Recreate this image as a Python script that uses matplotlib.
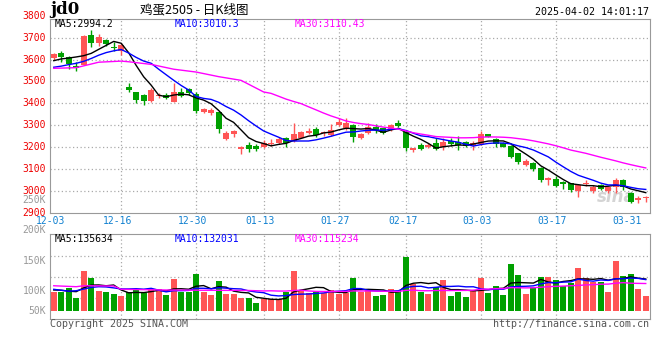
import numpy as np
import pandas as pd
import matplotlib
matplotlib.use('Agg')
import matplotlib.pyplot as plt

# trading days shown (80 days, 2024-12-03 .. 2025-04-02), labels on the x axis
tick_labels = ['12-03', '12-16', '12-30', '01-13', '01-27', '02-17', '03-03', '03-17', '03-31']
tick_idx = [0, 9, 19, 28, 38, 47, 57, 67, 77]

# daily candles
opens = [3607, 3629, 3610, 3571, 3575, 3712, 3678, 3690, 3659, 3640,
         3476, 3453, 3438, 3411, 3433, 3438, 3407, 3453, 3464, 3443,
         3362, 3357, 3360, 3235, 3258, 3190, 3208, 3205, 3199, 3214,
         3220, 3240, 3229, 3243, 3266, 3282, 3263, 3255, 3301, 3286,
         3301, 3240, 3263, 3290, 3286, 3278, 3311, 3270, 3187, 3208,
         3202, 3220, 3202, 3229, 3225, 3225, 3209, 3214, 3260, 3235,
         3217, 3205, 3171, 3118, 3129, 3103, 3050, 3053, 3042, 3035,
         3001, 3030, 3001, 3027, 3001, 3016, 3050, 2989, 2958, 2966]
highs = [3631, 3640, 3615, 3590, 3712, 3735, 3717, 3692, 3682, 3674,
         3491, 3453, 3443, 3469, 3446, 3446, 3494, 3469, 3472, 3450,
         3378, 3378, 3360, 3275, 3278, 3205, 3224, 3214, 3232, 3235,
         3244, 3244, 3311, 3275, 3288, 3290, 3275, 3305, 3332, 3334,
         3305, 3263, 3311, 3305, 3286, 3305, 3324, 3278, 3197, 3217,
         3220, 3240, 3240, 3240, 3251, 3229, 3229, 3275, 3262, 3240,
         3222, 3210, 3175, 3144, 3133, 3108, 3062, 3068, 3047, 3038,
         3030, 3050, 3027, 3030, 3022, 3057, 3054, 2996, 2976, 2976]
lows = [3600, 3590, 3556, 3549, 3573, 3656, 3662, 3660, 3640, 3621,
        3453, 3403, 3392, 3408, 3423, 3418, 3407, 3430, 3440, 3354,
        3356, 3347, 3266, 3232, 3247, 3167, 3179, 3183, 3194, 3205,
        3214, 3202, 3224, 3240, 3258, 3247, 3251, 3251, 3296, 3278,
        3224, 3235, 3260, 3263, 3258, 3275, 3293, 3183, 3179, 3187,
        3195, 3187, 3187, 3205, 3187, 3199, 3187, 3209, 3245, 3199,
        3199, 3148, 3123, 3114, 3092, 3042, 3027, 3019, 3007, 2996,
        2970, 3022, 2989, 3004, 2991, 2991, 3004, 2946, 2946, 2950]
closes = [3625, 3613, 3580, 3563, 3708, 3678, 3705, 3671, 3653, 3666,
          3461, 3415, 3412, 3461, 3438, 3425, 3453, 3433, 3446, 3366,
          3376, 3369, 3281, 3266, 3273, 3202, 3193, 3193, 3220, 3220,
          3235, 3217, 3258, 3267, 3273, 3255, 3270, 3278, 3316, 3311,
          3247, 3260, 3290, 3278, 3263, 3301, 3296, 3194, 3194, 3190,
          3209, 3190, 3225, 3214, 3209, 3205, 3217, 3260, 3247, 3214,
          3202, 3153, 3133, 3137, 3098, 3050, 3057, 3022, 3030, 3004,
          3027, 3037, 3019, 3007, 3016, 3050, 3019, 2950, 2966, 2973]

# volume in thousands
volume = [82, 82, 99, 56, 171, 141, 85, 82, 72, 65,
          82, 93, 78, 93, 93, 68, 136, 82, 82, 157,
          82, 68, 127, 72, 72, 56, 56, 35, 51, 51,
          51, 82, 171, 89, 78, 82, 75, 89, 71, 75,
          141, 79, 93, 65, 68, 93, 85, 230, 113, 82,
          72, 103, 131, 65, 82, 61, 89, 141, 78, 106,
          68, 199, 153, 72, 100, 145, 145, 131, 106, 117,
          184, 141, 124, 122, 82, 213, 150, 157, 93, 65]

# moving averages at the left edge (days before the window)
ma5_head = [3595, 3603, 3607, 3612]
ma10_head = [3565, 3570, 3577, 3583, 3592, 3605, 3620, 3632, 3640]
ma30_head_idx = [0, 3, 6, 9, 10, 13, 16, 19, 22, 25, 28]
ma30_head = [3560, 3563, 3588, 3593, 3590, 3578, 3556, 3543, 3522, 3505, 3452]

vma5_head = [89, 88, 84, 82]
vma10_head = [92, 88, 84, 86, 93, 100, 103, 102, 98]
vma30_head_idx = [0, 3, 4, 8, 9, 15, 20, 26, 28]
vma30_head = [107, 103, 107, 106, 92, 89, 88, 87, 85]

price_ticks = [2900, 3000, 3100, 3200, 3300, 3400, 3500, 3600, 3700, 3800]
vol_ticks = ['250K', '200K', '150K', '100K', '50K']

RED = '#ff5555'
GREEN = '#00a000'
GRID = '#aaaaaa'
BORDER = '#999999'
MONO = 'DejaVu Sans Mono'

W, H = 660, 360
def fx(x):
    return x / W
def fy(y):
    return 1 - y / H

n = len(closes)
x = np.arange(n)
o = np.array(opens)
c = np.array(closes)
col = np.where(c >= o, RED, GREEN)


def ma_line(values, win, head, head_idx=None):
    s = pd.Series(values).rolling(win).mean()
    if head_idx is None:
        head_idx = list(range(len(head)))
    xs = list(head_idx) + list(range(win - 1, len(values)))
    ys = list(head) + list(s[win - 1:])
    return xs, ys


fig = plt.figure(figsize=(6.6, 3.6), dpi=100)

# price panel
ax = fig.add_axes([fx(50), fy(212.7), fx(599.5), 193.7 / H])
ax.set_xlim(-0.5, n - 0.5)
ax.set_ylim(2900, 3785.5)
ax.set_yticks(price_ticks[1:-1])
ax.set_xticks(tick_idx[1:-1])
ax.grid(True, ls=(0, (1, 2)), color=GRID, lw=0.9)
ax.set_axisbelow(True)
ax.tick_params(left=False, bottom=False, labelleft=False, labelbottom=False)
for s in ax.spines.values():
    s.set_color(BORDER)
ax.spines['left'].set_linestyle((0, (1, 1)))

# faint sina logo in the corner
ax.text(0.945, 0.08, 'sina', transform=ax.transAxes, fontsize=12, fontweight='bold',
        style='italic', color='#d4d4d4', ha='center', va='center', zorder=1)

ax.vlines(x, lows, highs, colors=col, lw=1, zorder=2)
body = np.maximum(np.abs(c - o), 3)
ax.bar(x, body, bottom=np.minimum(o, c), width=0.8, color=col, lw=0, zorder=3)

for win, head, hidx, color in [(5, ma5_head, None, 'black'),
                               (10, ma10_head, None, '#0000ff'),
                               (30, ma30_head, ma30_head_idx, '#ff00ff')]:
    xs, ys = ma_line(closes, win, head, hidx)
    ax.plot(xs, ys, color=color, lw=1, zorder=4)

for v in price_ticks:
    ax.text(-0.007, v, str(v), transform=ax.get_yaxis_transform(), ha='right',
            va='center', color='#ee0000', fontsize=7, family=MONO, clip_on=False)

for i, lab in zip(tick_idx, tick_labels):
    ax.text(i - 0.45, -0.043, lab, transform=ax.get_xaxis_transform(), ha='center',
            va='center', color='#1080d0', fontsize=7, family=MONO, clip_on=False)

fig.text(fx(55), fy(24), 'MA5:2994.2', color='black', fontsize=7, family=MONO, va='center')
fig.text(fx(175), fy(24), 'MA10:3010.3', color='#0000ff', fontsize=7, family=MONO, va='center')
fig.text(fx(295), fy(24), 'MA30:3110.43', color='#ff00ff', fontsize=7, family=MONO, va='center')

# volume panel
ax2 = fig.add_axes([fx(50), fy(319.3), fx(599.5), 85 / H])
ax2.set_xlim(-0.5, n - 0.5)
lo, hi = -35.2, 325.2
ax2.set_ylim(lo, hi)
ax2.set_yticks(np.linspace(lo, hi, 5)[1:-1])
ax2.set_xticks(tick_idx[1:-1])
ax2.grid(True, ls=(0, (1, 2)), color=GRID, lw=0.9)
ax2.set_axisbelow(True)
ax2.tick_params(left=False, bottom=False, labelleft=False, labelbottom=False)
for s in ax2.spines.values():
    s.set_color(BORDER)
ax2.spines['left'].set_linestyle((0, (1, 1)))

ax2.bar(x, volume, width=0.8, color=col, lw=0, zorder=2)
for win, head, hidx, color in [(5, vma5_head, None, 'black'),
                               (10, vma10_head, None, '#0000ff'),
                               (30, vma30_head, vma30_head_idx, '#ff00ff')]:
    xs, ys = ma_line(volume, win, head, hidx)
    ax2.plot(xs, ys, color=color, lw=1, zorder=4)

for lab, py in zip(vol_ticks, [200, 230, 261, 291, 311]):
    fig.text(fx(46), fy(py), lab, ha='right', va='center', color=BORDER,
             fontsize=7, family=MONO)

fig.text(fx(55), fy(239), 'MA5:135634', color='black', fontsize=7, family=MONO, va='center')
fig.text(fx(175), fy(239), 'MA10:132031', color='#0000ff', fontsize=7, family=MONO, va='center')
fig.text(fx(295), fy(239), 'MA30:115234', color='#ff00ff', fontsize=7, family=MONO, va='center')

# header and footer
fig.text(fx(50), fy(10), 'jd0', fontsize=12, fontweight='bold', family='DejaVu Serif',
         va='center')
fig.text(fx(140), fy(10), '鸡蛋2505 - 日K线图', fontsize=9,
         family=['Noto Sans CJK SC', 'DejaVu Sans'], va='center')
fig.text(fx(649), fy(12), '2025-04-02 14:01:17', fontsize=7.2, family=MONO,
         ha='right', va='center')
fig.text(fx(50), fy(324), 'Copyright 2025 SINA.COM', fontsize=7.2, family=MONO,
         color='#555555', va='center')
fig.text(fx(649), fy(324), 'http://finance.sina.com.cn', fontsize=7.2, family=MONO,
         color='#555555', ha='right', va='center')

fig.savefig('out.png', dpi=100)
